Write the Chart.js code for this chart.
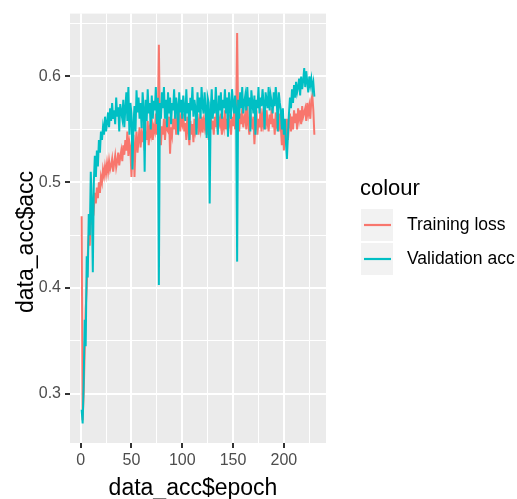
<!DOCTYPE html>
<html>
<head>
<meta charset="utf-8">
<script src="https://cdn.jsdelivr.net/npm/chart.js@4.4.1/dist/chart.umd.min.js"></script>
<style>
  html, body { margin: 0; padding: 0; background: #ffffff; }
  canvas { display: block; }
</style>
</head>
<body>
<canvas id="myChart" width="517" height="499"></canvas>
<script>
// training accuracy per epoch (red line, labelled "Training loss" in the legend)
const trainAcc = [
  0.468, 0.275, 0.300, 0.340, 0.380, 0.400, 0.430, 0.450, 0.440, 0.470,
  0.460, 0.480, 0.475, 0.490, 0.480, 0.495, 0.485, 0.500, 0.490, 0.505,
  0.500, 0.512, 0.506, 0.515, 0.508, 0.518, 0.510, 0.520, 0.512, 0.516,
  0.522, 0.510, 0.518, 0.525, 0.514, 0.520, 0.528, 0.516, 0.524, 0.530,
  0.520, 0.535, 0.526, 0.540, 0.530, 0.548, 0.525, 0.538, 0.532, 0.505,
  0.530, 0.545, 0.505, 0.535, 0.548, 0.528, 0.540, 0.552, 0.533, 0.545,
  0.538, 0.555, 0.530, 0.548, 0.540, 0.558, 0.535, 0.550, 0.545, 0.560,
  0.540, 0.552, 0.548, 0.565, 0.545, 0.556, 0.630, 0.550, 0.535, 0.553,
  0.545, 0.560, 0.540, 0.555, 0.550, 0.548, 0.562, 0.527, 0.552, 0.545,
  0.560, 0.550, 0.566, 0.545, 0.558, 0.552, 0.568, 0.548, 0.560, 0.555,
  0.565, 0.548, 0.556, 0.540, 0.562, 0.550, 0.535, 0.558, 0.545, 0.555,
  0.538, 0.560, 0.548, 0.553, 0.565, 0.545, 0.557, 0.550, 0.562, 0.547,
  0.558, 0.552, 0.566, 0.545, 0.560, 0.540, 0.555, 0.568, 0.550, 0.558,
  0.545, 0.562, 0.552, 0.570, 0.548, 0.560, 0.555, 0.565, 0.545, 0.558,
  0.552, 0.568, 0.550, 0.560, 0.548, 0.564, 0.556, 0.545, 0.562, 0.553,
  0.566, 0.550, 0.558, 0.641, 0.560, 0.548, 0.565, 0.555, 0.570, 0.552,
  0.560, 0.565, 0.550, 0.572, 0.556, 0.545, 0.566, 0.558, 0.550, 0.562,
  0.536, 0.555, 0.568, 0.545, 0.560, 0.552, 0.570, 0.548, 0.562, 0.555,
  0.565, 0.550, 0.568, 0.556, 0.548, 0.564, 0.555, 0.570, 0.552, 0.560,
  0.545, 0.566, 0.555, 0.560, 0.548, 0.565, 0.552, 0.535, 0.556, 0.530,
  0.550, 0.545, 0.560, 0.540, 0.555, 0.565, 0.548, 0.562, 0.550, 0.568,
  0.556, 0.565, 0.550, 0.570, 0.560, 0.568, 0.555, 0.572, 0.562, 0.566,
  0.570, 0.558, 0.575, 0.565, 0.572, 0.560, 0.578, 0.582, 0.568, 0.545
];

// validation accuracy per epoch (cyan line)
const valAcc = [
  0.285, 0.272, 0.310, 0.370, 0.345, 0.430, 0.410, 0.470, 0.450, 0.510,
  0.480, 0.415, 0.500, 0.525, 0.505, 0.530, 0.515, 0.540, 0.528, 0.548,
  0.540, 0.552, 0.545, 0.562, 0.548, 0.556, 0.566, 0.552, 0.570, 0.558,
  0.575, 0.560, 0.568, 0.555, 0.580, 0.562, 0.571, 0.548, 0.574, 0.566,
  0.560, 0.578, 0.552, 0.570, 0.585, 0.558, 0.590, 0.545, 0.575, 0.565,
  0.512, 0.555, 0.572, 0.548, 0.587, 0.566, 0.580, 0.560, 0.575, 0.551,
  0.585, 0.570, 0.510, 0.578, 0.558, 0.588, 0.565, 0.575, 0.550, 0.582,
  0.560, 0.577, 0.568, 0.590, 0.555, 0.580, 0.403, 0.575, 0.560, 0.585,
  0.570, 0.590, 0.560, 0.578, 0.552, 0.585, 0.565, 0.580, 0.555, 0.575,
  0.568, 0.588, 0.560, 0.580, 0.572, 0.545, 0.585, 0.566, 0.578, 0.560,
  0.582, 0.570, 0.558, 0.588, 0.565, 0.575, 0.540, 0.580, 0.568, 0.590,
  0.562, 0.578, 0.570, 0.545, 0.585, 0.566, 0.580, 0.560, 0.590, 0.572,
  0.565, 0.585, 0.570, 0.542, 0.580, 0.575, 0.480, 0.568, 0.588, 0.560,
  0.578, 0.565, 0.590, 0.570, 0.545, 0.582, 0.568, 0.585, 0.560, 0.578,
  0.570, 0.588, 0.565, 0.580, 0.543, 0.585, 0.572, 0.560, 0.588, 0.575,
  0.565, 0.582, 0.570, 0.425, 0.578, 0.560, 0.585, 0.570, 0.590, 0.565,
  0.575, 0.582, 0.568, 0.590, 0.572, 0.580, 0.548, 0.587, 0.575, 0.565,
  0.582, 0.545, 0.578, 0.570, 0.590, 0.565, 0.580, 0.572, 0.588, 0.575,
  0.550, 0.585, 0.578, 0.570, 0.590, 0.568, 0.582, 0.575, 0.565, 0.585,
  0.572, 0.590, 0.578, 0.548, 0.585, 0.575, 0.568, 0.550, 0.570, 0.545,
  0.560, 0.538, 0.522, 0.545, 0.565, 0.580, 0.570, 0.588, 0.575, 0.592,
  0.580, 0.595, 0.585, 0.590, 0.598, 0.582, 0.600, 0.588, 0.596, 0.608,
  0.590, 0.605, 0.595, 0.585, 0.600, 0.592, 0.598, 0.588, 0.594, 0.581
];

const seriesNames = ["Training loss", "Validation acc"];
const seriesColors = ["#F8766D", "#00BFC4"];

// axis breaks (major get labels, minor only grid lines)
const xMajor = [0, 50, 100, 150, 200];
const xMinor = [25, 75, 125, 175, 225];
const yMajor = [0.3, 0.4, 0.5, 0.6];
const yMinor = [0.35, 0.45, 0.55, 0.65];

const FONT = "'Liberation Sans', Arial, Helvetica, sans-serif";

const epochs = trainAcc.map((_, i) => i + 1);

// ggplot style 5% expansion of the data range
const expand = (lo, hi) => [lo - (hi - lo) * 0.05, hi + (hi - lo) * 0.05];
const [xLo, xHi] = expand(epochs[0], epochs[epochs.length - 1]);
const allY = trainAcc.concat(valAcc);
const [yLo, yHi] = expand(Math.min(...allY), Math.max(...allY));

const isMajor = (list, v) => list.some((m) => Math.abs(m - v) < 1e-9);

const toPoints = (arr) => arr.map((v, i) => ({ x: epochs[i], y: v }));

const ggTheme = {
  id: "ggTheme",
  beforeDraw(chart) {
    const { ctx, chartArea: a } = chart;
    ctx.save();
    ctx.fillStyle = "#EBEBEB";
    ctx.fillRect(a.left, a.top, a.right - a.left, a.bottom - a.top);
    ctx.restore();
  },
  afterDraw(chart) {
    const ctx = chart.ctx;
    ctx.save();
    ctx.fillStyle = "#000000";

    // axis titles
    ctx.font = "23px " + FONT;
    ctx.textAlign = "center";
    ctx.textBaseline = "alphabetic";
    ctx.fillText("data_acc$epoch", 193, 495);
    ctx.save();
    ctx.translate(33, 242);
    ctx.rotate(-Math.PI / 2);
    ctx.fillText("data_acc$acc", 0, 0);
    ctx.restore();

    // legend
    ctx.textAlign = "left";
    ctx.font = "22px " + FONT;
    ctx.fillText("colour", 360, 195);
    ctx.font = "17.5px " + FONT;
    ctx.textBaseline = "middle";
    seriesNames.forEach((name, i) => {
      const top = 209 + i * 34;
      ctx.fillStyle = "#F2F2F2";
      ctx.fillRect(361, top, 32, 32);
      ctx.strokeStyle = seriesColors[i];
      ctx.lineWidth = 2.2;
      ctx.beginPath();
      ctx.moveTo(364, top + 16);
      ctx.lineTo(391, top + 16);
      ctx.stroke();
      ctx.fillStyle = "#000000";
      ctx.fillText(name, 407, top + 16);
    });
    ctx.restore();
  },
};

const ctx = document.getElementById("myChart").getContext("2d");

new Chart(ctx, {
  type: "line",
  data: {
    datasets: [
      {
        label: seriesNames[0],
        data: toPoints(trainAcc),
        borderColor: seriesColors[0],
        order: 1,
      },
      {
        label: seriesNames[1],
        data: toPoints(valAcc),
        borderColor: seriesColors[1],
        order: 0,
      },
    ],
  },
  options: {
    responsive: false,
    animation: false,
    devicePixelRatio: 1,
    layout: { padding: { left: 0, top: 10, right: 191, bottom: 0 } },
    elements: {
      line: { borderWidth: 2, tension: 0, fill: false },
      point: { radius: 0 },
    },
    plugins: {
      legend: { display: false },
      tooltip: { enabled: false },
    },
    scales: {
      x: {
        type: "linear",
        min: xLo,
        max: xHi,
        afterBuildTicks: (s) => {
          s.ticks = xMajor.concat(xMinor).sort((a, b) => a - b).map((v) => ({ value: v }));
        },
        afterFit: (s) => { s.height = 56; },
        border: { display: false },
        grid: {
          color: "#FFFFFF",
          lineWidth: (c) => (isMajor(xMajor, c.tick.value) ? 2 : 1),
          tickColor: (c) => (isMajor(xMajor, c.tick.value) ? "#333333" : "rgba(0,0,0,0)"),
          tickLength: 5,
          tickWidth: 2,
        },
        ticks: {
          autoSkip: false,
          maxRotation: 0,
          padding: 3,
          color: "#4D4D4D",
          font: { size: 16, family: FONT },
          callback: (v) => (isMajor(xMajor, v) ? String(v) : ""),
        },
      },
      y: {
        type: "linear",
        min: yLo,
        max: yHi,
        afterBuildTicks: (s) => {
          s.ticks = yMajor.concat(yMinor).sort((a, b) => a - b).map((v) => ({ value: v }));
        },
        afterFit: (s) => { s.width = 70; },
        border: { display: false },
        grid: {
          color: "#FFFFFF",
          lineWidth: (c) => (isMajor(yMajor, c.tick.value) ? 2 : 1),
          tickColor: (c) => (isMajor(yMajor, c.tick.value) ? "#333333" : "rgba(0,0,0,0)"),
          tickLength: 5,
          tickWidth: 2,
        },
        ticks: {
          autoSkip: false,
          padding: 4,
          color: "#4D4D4D",
          font: { size: 16, family: FONT },
          callback: (v) => (isMajor(yMajor, v) ? v.toFixed(1) : ""),
        },
      },
    },
  },
  plugins: [ggTheme],
});
</script>
</body>
</html>
